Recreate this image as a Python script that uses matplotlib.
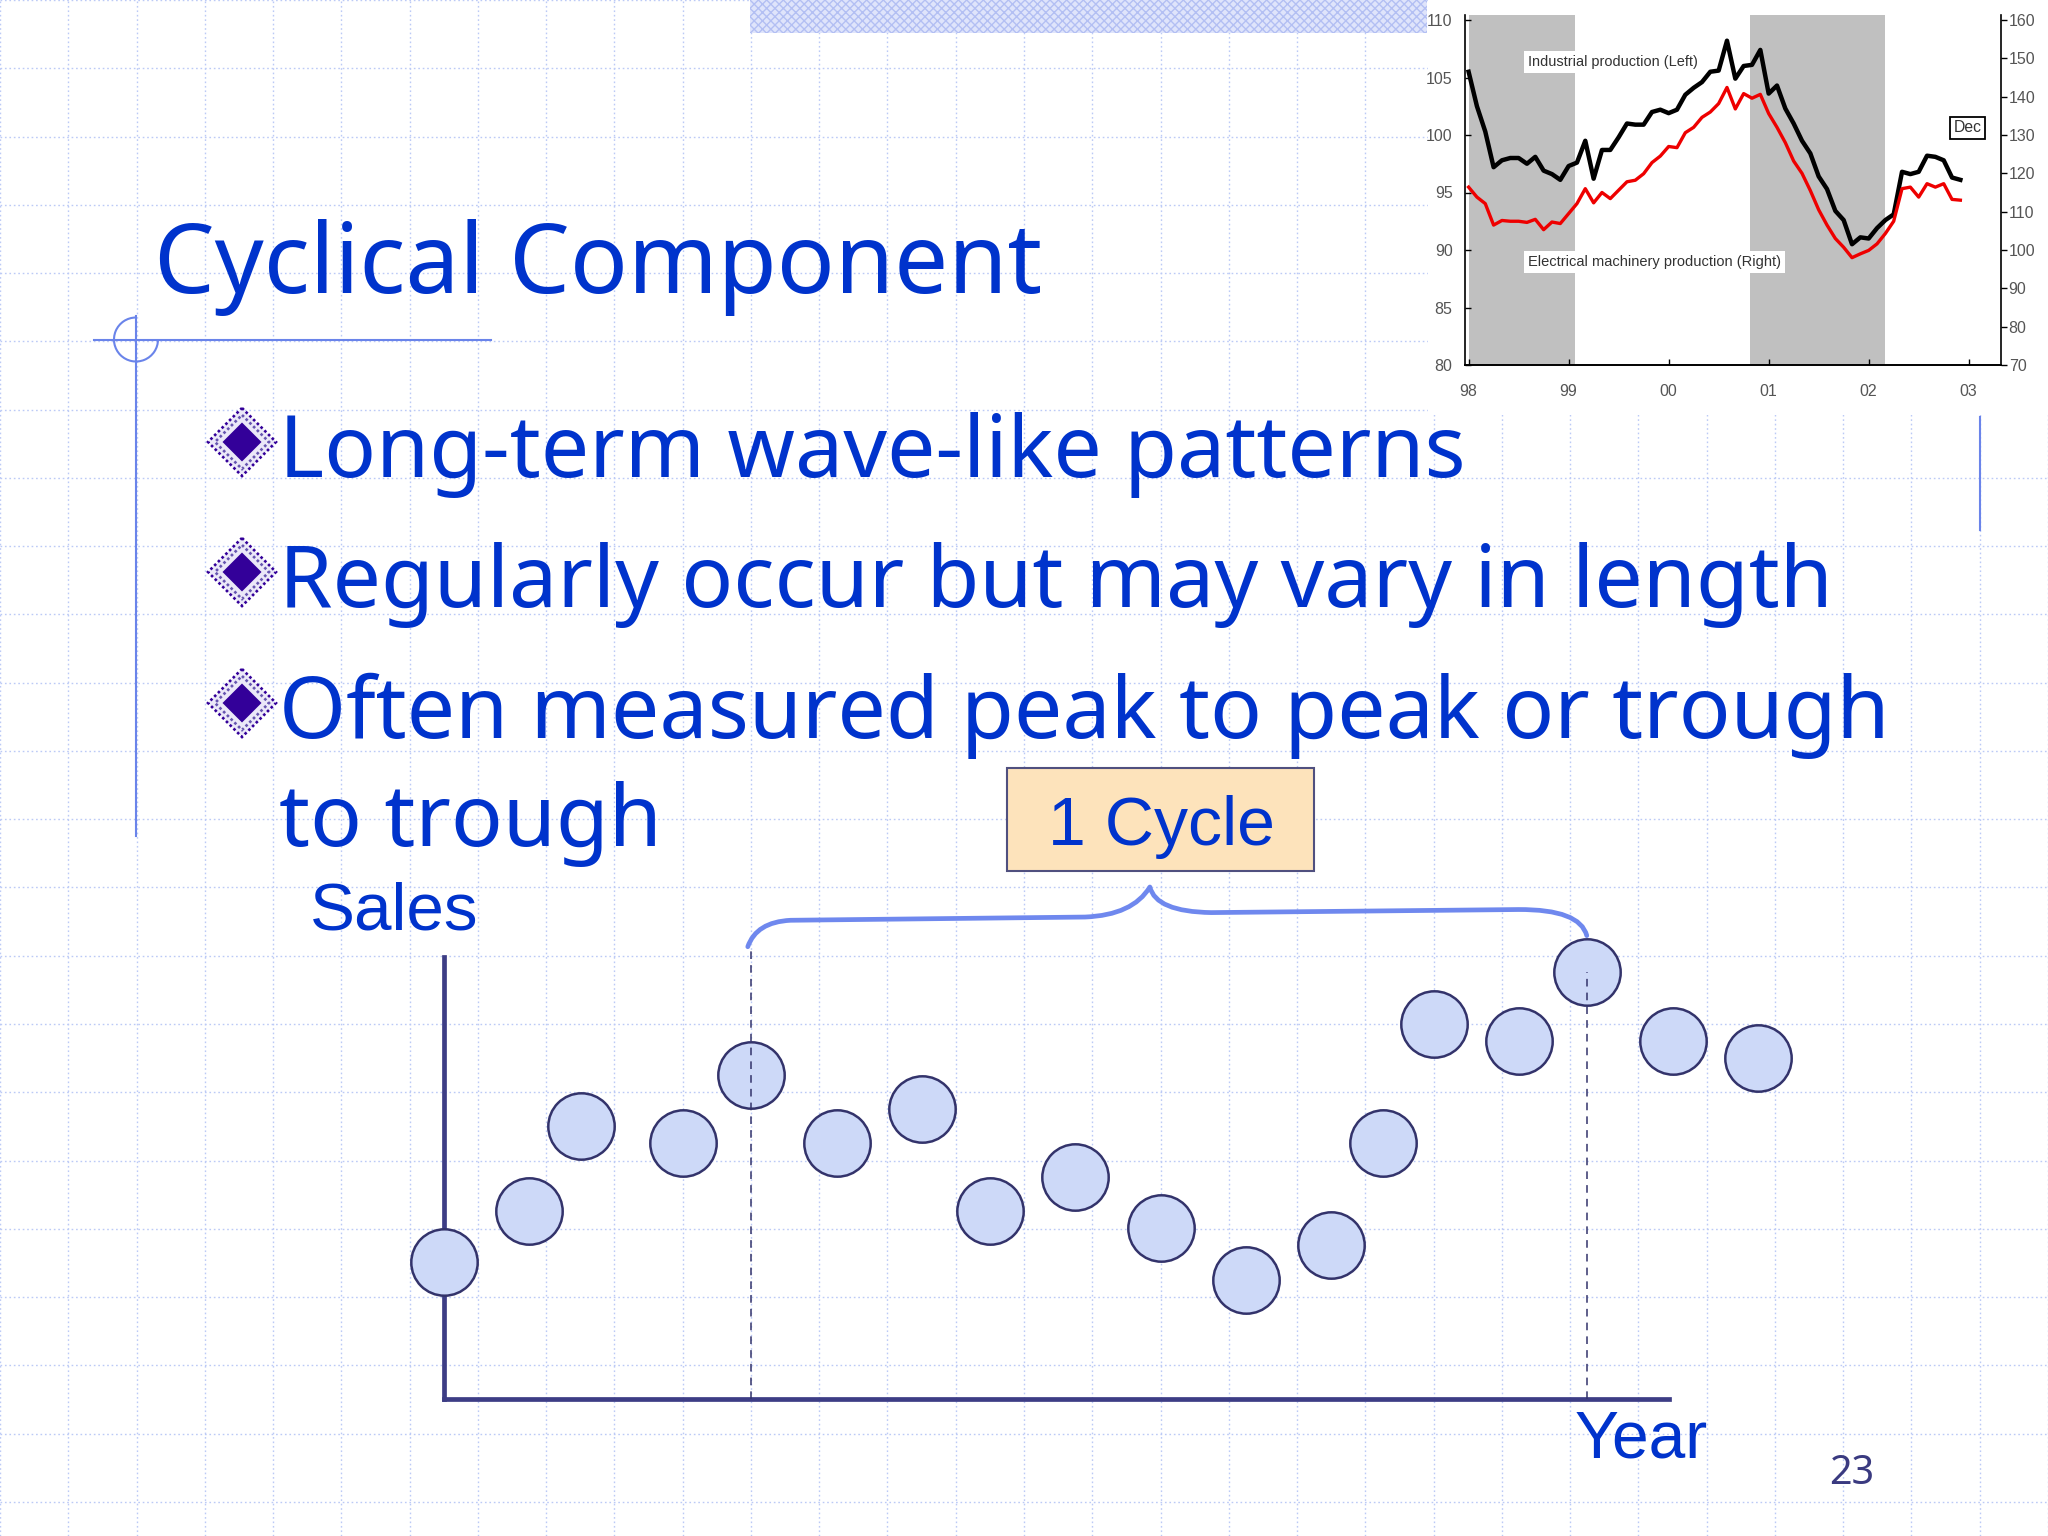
import numpy as np
import matplotlib
matplotlib.use("Agg")
import matplotlib.pyplot as plt
from matplotlib.patches import Rectangle, Polygon, Arc, PathPatch
from matplotlib.path import Path

# ---------------- data ----------------
title = "Cyclical Component"
bullets = ["Long-term wave-like patterns",
           "Regularly occur but may vary in length",
           "Often measured peak to peak or trough"]
bullet_cont = "to trough"
cycle_label = "1 Cycle"
y_label = "Sales"
x_label = "Year"
slide_no = "23"

# schematic cycle diagram (time position, sales level)
cycle_years = [0, 5, 8, 14, 18, 23, 28, 32, 37, 42, 47, 52, 55, 58, 63, 67, 72, 77]
cycle_sales = [8, 11, 16, 15, 19, 15, 17, 11, 13, 10, 7, 9, 15, 22, 21, 25, 21, 20]
peak_idx = [4, 15]

# inset chart: monthly Jan 1998 - Dec 2002
inset_start = 1998
ip_left = [105.5, 102.5, 100.3, 97.2, 97.8, 98.0, 98.0, 97.5, 98.1, 96.9, 96.6, 96.1,
           97.3, 97.6, 99.5, 96.2, 98.7, 98.7, 99.8, 101.0, 100.9, 100.9, 102.0, 102.2,
           101.9, 102.2, 103.5, 104.1, 104.6, 105.5, 105.6, 108.2, 104.9, 106.0, 106.1, 107.4,
           103.6, 104.3, 102.3, 101.0, 99.5, 98.4, 96.4, 95.3, 93.4, 92.6, 90.5, 91.1,
           91.0, 91.9, 92.6, 93.1, 96.8, 96.6, 96.8, 98.2, 98.1, 97.8, 96.3, 96.1]
em_right = [116.4, 113.8, 112.1, 106.5, 107.7, 107.5, 107.5, 107.2, 108.0, 105.3, 107.3, 106.9,
            109.5, 112.1, 116.0, 112.3, 115.0, 113.4, 115.6, 117.8, 118.2, 119.9, 122.8, 124.5,
            127.0, 126.7, 130.6, 132.0, 134.6, 136.0, 138.2, 142.4, 136.8, 140.8, 139.6, 140.6,
            135.6, 132.0, 128.0, 123.2, 120.0, 115.5, 110.5, 106.5, 103.0, 100.7, 98.0, 99.0,
            99.9, 101.6, 104.3, 107.5, 116.0, 116.4, 113.8, 117.3, 116.4, 117.3, 113.2, 113.0]
recessions = [(1998.0, 1999.06), (2000.81, 2002.16)]
inset_xticks = [1998, 1999, 2000, 2001, 2002, 2003]
inset_xlabels = ["98", "99", "00", "01", "02", "03"]
left_ticks = [80, 85, 90, 95, 100, 105, 110]
right_ticks = [70, 80, 90, 100, 110, 120, 130, 140, 150, 160]
ip_text = "Industrial production (Left)"
em_text = "Electrical machinery production (Right)"
dec_text = "Dec"

# ---------------- style ----------------
BLUE = "#0033cc"
DECO = "#6a84ea"
SANS = ["Noto Sans", "DejaVu Sans"]
ARIAL = ["Liberation Sans", "DejaVu Sans"]
NARROW = ["Liberation Sans Narrow", "Liberation Sans", "DejaVu Sans"]

W, H = 2048, 1536
fig = plt.figure(figsize=(W / 100, H / 100), dpi=100)
renderer = fig.canvas.get_renderer()


def fit(t, target_w):
    for _ in range(4):
        w = t.get_window_extent(renderer).width
        t.set_fontsize(t.get_fontsize() * target_w / w)
    return t.get_fontsize()


# background "slide" axes in pixel coordinates (y down)
bg = fig.add_axes([0, 0, 1, 1])
bg.set_xlim(0, W)
bg.set_ylim(H, 0)
step = W / 30
bg.set_xticks(np.arange(0, W + 1, step))
bg.set_yticks(np.arange(0, H + 1, step))
bg.tick_params(length=0, labelbottom=False, labelleft=False)
for s in bg.spines.values():
    s.set_visible(False)
bg.set_axisbelow(True)
bg.grid(True, color="#bccaf6", lw=1.0, linestyle=(0, (1.2, 2.0)))

# top hatched band
plt.rcParams["hatch.linewidth"] = 1.0
bg.add_patch(Rectangle((750, 0), 677, 33, facecolor="#dfe4fb", edgecolor="#b3bff3",
                       hatch="xxxx", lw=0, zorder=1))
# white region of pasted inset chart
bg.add_patch(Rectangle((1428, 0), 620, 415, facecolor="white", edgecolor="none", zorder=1))

# decorations
bg.plot([136, 136], [316, 836], color=DECO, lw=1.5, zorder=2)
bg.plot([94, 491], [339.5, 339.5], color=DECO, lw=1.5, zorder=2)
bg.add_patch(Arc((136, 339.5), 44, 44, theta1=0, theta2=270, color=DECO, lw=1.5, zorder=2))
bg.plot([1980, 1980], [417, 530], color=DECO, lw=1.5, zorder=2)

# title
tt = bg.text(154, 293, title, fontsize=76, color=BLUE, family=SANS, va="baseline", zorder=5)
fit(tt, 888)

# bullets
baselines = [477, 607, 738]
texts = []
for b, s in zip(baselines, bullets):
    texts.append(bg.text(279, b, s, fontsize=66, color=BLUE, family=SANS, va="baseline", zorder=5))
fs = fit(texts[1], 1554)
for t in texts:
    t.set_fontsize(fs)
bg.text(279, 846, bullet_cont, fontsize=fs, color=BLUE, family=SANS, va="baseline", zorder=5)


def diamond(cx, cy, h):
    return [(cx, cy - h), (cx + h, cy), (cx, cy + h), (cx - h, cy)]


for b in baselines:
    cx, cy = 242, b - 35
    bg.add_patch(Polygon(diamond(cx, cy, 34), closed=True, facecolor="#ebe8f8",
                         edgecolor="#330099", lw=1.9, linestyle=(0, (1, 1)), zorder=4))
    bg.add_patch(Polygon(diamond(cx, cy, 27), closed=True, facecolor="none",
                         edgecolor="#6655b0", lw=1.9, linestyle=(0, (1, 1)), zorder=4))
    bg.add_patch(Polygon(diamond(cx, cy, 19.5), closed=True, facecolor="#330099",
                         edgecolor="none", zorder=4))

# labels of diagram
bg.text(310, 930, y_label, fontsize=48.5, color=BLUE, family=ARIAL, va="baseline", zorder=5)
bg.text(1575, 1458, x_label, fontsize=47.5, color=BLUE, family=ARIAL, va="baseline", zorder=5)
bg.add_patch(Rectangle((1007, 768), 307, 103, facecolor="#fde3bb", edgecolor="#50507f",
                       lw=1.5, zorder=4))
bg.text(1162, 845, cycle_label, fontsize=49, color=BLUE, family=ARIAL, va="baseline",
        ha="center", zorder=5)
bg.text(1829, 1484, slide_no, fontsize=28.5, color="#3a3a80", family=SANS, va="baseline", zorder=5)

# ---------------- cycle diagram ----------------
u = W / 120.0
ox, oy = 444, 1399
L, R, T, B = 300, 1900, 850, 1450
ax = fig.add_axes([L / W, 1 - B / H, (R - L) / W, (B - T) / H])
ax.set_xlim((L - ox) / u, (R - ox) / u)
ax.set_ylim((oy - B) / u, (oy - T) / u)
ax.patch.set_alpha(0)
ax.set_xticks([])
ax.set_yticks([])
for k in ("top", "right"):
    ax.spines[k].set_visible(False)
for k in ("left", "bottom"):
    ax.spines[k].set_position(("data", 0))
    ax.spines[k].set_color("#3d3d85")
    ax.spines[k].set_linewidth(3.4)
    ax.spines[k].set_capstyle("projecting")
ax.spines["left"].set_bounds(0, (oy - 957) / u)
ax.spines["bottom"].set_bounds(0, (1669 - ox) / u)

ax.scatter(cycle_years, cycle_sales, s=2285, facecolor="#cdd9f8", edgecolor="#33336b",
           linewidth=1.8, zorder=3, clip_on=False)

p0x, p0y = cycle_years[peak_idx[0]], cycle_sales[peak_idx[0]]
p1x, p1y = cycle_years[peak_idx[1]], cycle_sales[peak_idx[1]]
brace_lo = 26.5
ax.plot([p0x, p0x], [0, brace_lo], color="#33336b", lw=1.1, linestyle=(0, (5, 4)), zorder=4)
ax.plot([p1x, p1x], [0, p1y], color="#33336b", lw=1.1, linestyle=(0, (5, 4)), zorder=4)

xl, xr = p0x - 0.2, p1x - 0.04
xm = 41.36
verts = [(xl, brace_lo), (xl + 0.5, 27.95), (xl + 2.5, 28.05),
         (xm - 3.8, 28.24),
         (xm - 1.0, 28.35), (xm, 30.0),
         (xm + 0.35, 28.55), (xm + 3.6, 28.5),
         (xr - 4.0, 28.68),
         (xr - 0.4, 28.7), (xr, 27.15)]
codes = [Path.MOVETO, Path.CURVE3, Path.CURVE3, Path.LINETO, Path.CURVE3, Path.CURVE3,
         Path.CURVE3, Path.CURVE3, Path.LINETO, Path.CURVE3, Path.CURVE3]
ax.add_patch(PathPatch(Path(verts, codes), facecolor="none", edgecolor="#6f88ee", lw=3.4,
                       capstyle="round", joinstyle="round", zorder=4, clip_on=False))

# ---------------- inset chart ----------------
iL, iR, iT, iB = 1465, 2001, 15, 365
axi = fig.add_axes([iL / W, 1 - iB / H, (iR - iL) / W, (iB - iT) / H])
x0 = inset_start - 3.6 / 100.02
axi.set_xlim(x0, x0 + (iR - iL) / 100.02)
ltop = 80 + (iB - iT) / 11.5
axi.set_ylim(80, ltop)
axi.set_facecolor("white")
ax2 = axi.twinx()
ax2.set_ylim(70, 70 + 3 * (ltop - 80))

months = inset_start + np.arange(len(ip_left)) / 12.0
for a, b in recessions:
    axi.axvspan(a, b, color="#c0c0c0", lw=0, zorder=0)
axi.plot(months, ip_left, color="black", lw=3.2, zorder=3, solid_joinstyle="round")
ax2.plot(months, em_right, color="#ee0000", lw=2.4, zorder=3, solid_joinstyle="round")

for a in (axi, ax2):
    a.spines["top"].set_visible(False)
    for s in a.spines.values():
        s.set_linewidth(1.2)
ax2.spines["left"].set_visible(False)
axi.spines["right"].set_visible(False)

axi.set_xticks(inset_xticks)
axi.set_xticklabels(inset_xlabels)
axi.set_yticks(left_ticks)
ax2.set_yticks(right_ticks)
axi.tick_params(axis="x", direction="in", length=4, width=1, pad=14, labelsize=11.5,
                labelcolor="#555555")
axi.tick_params(axis="y", direction="in", length=4, width=1, pad=9, labelsize=11.5,
                labelcolor="#555555")
ax2.tick_params(axis="y", direction="out", length=4, width=1, pad=1.5, labelsize=11.5,
                labelcolor="#555555")
for lab in axi.get_xticklabels() + axi.get_yticklabels() + ax2.get_yticklabels():
    lab.set_family(NARROW)

t1 = ax2.text(1528, 62, ip_text, transform=bg.transData, fontsize=12, family=NARROW,
              color="#333333", va="center", ha="left", zorder=6,
              bbox=dict(boxstyle="square,pad=0.3", facecolor="white", edgecolor="none"))
fit(t1, 170)
t2 = ax2.text(1528, 262, em_text, transform=bg.transData, fontsize=12, family=NARROW,
              color="#333333", va="center", ha="left", zorder=6,
              bbox=dict(boxstyle="square,pad=0.3", facecolor="white", edgecolor="none"))
fit(t2, 253)
t3 = ax2.text(1967.5, 128, dec_text, transform=bg.transData, fontsize=12, family=NARROW,
              color="#333333", va="center", ha="center", zorder=6,
              bbox=dict(boxstyle="square,pad=0.25", facecolor="white", edgecolor="black",
                        lw=1.3))
fit(t3, 28)

fig.savefig("out.png", dpi=100)
